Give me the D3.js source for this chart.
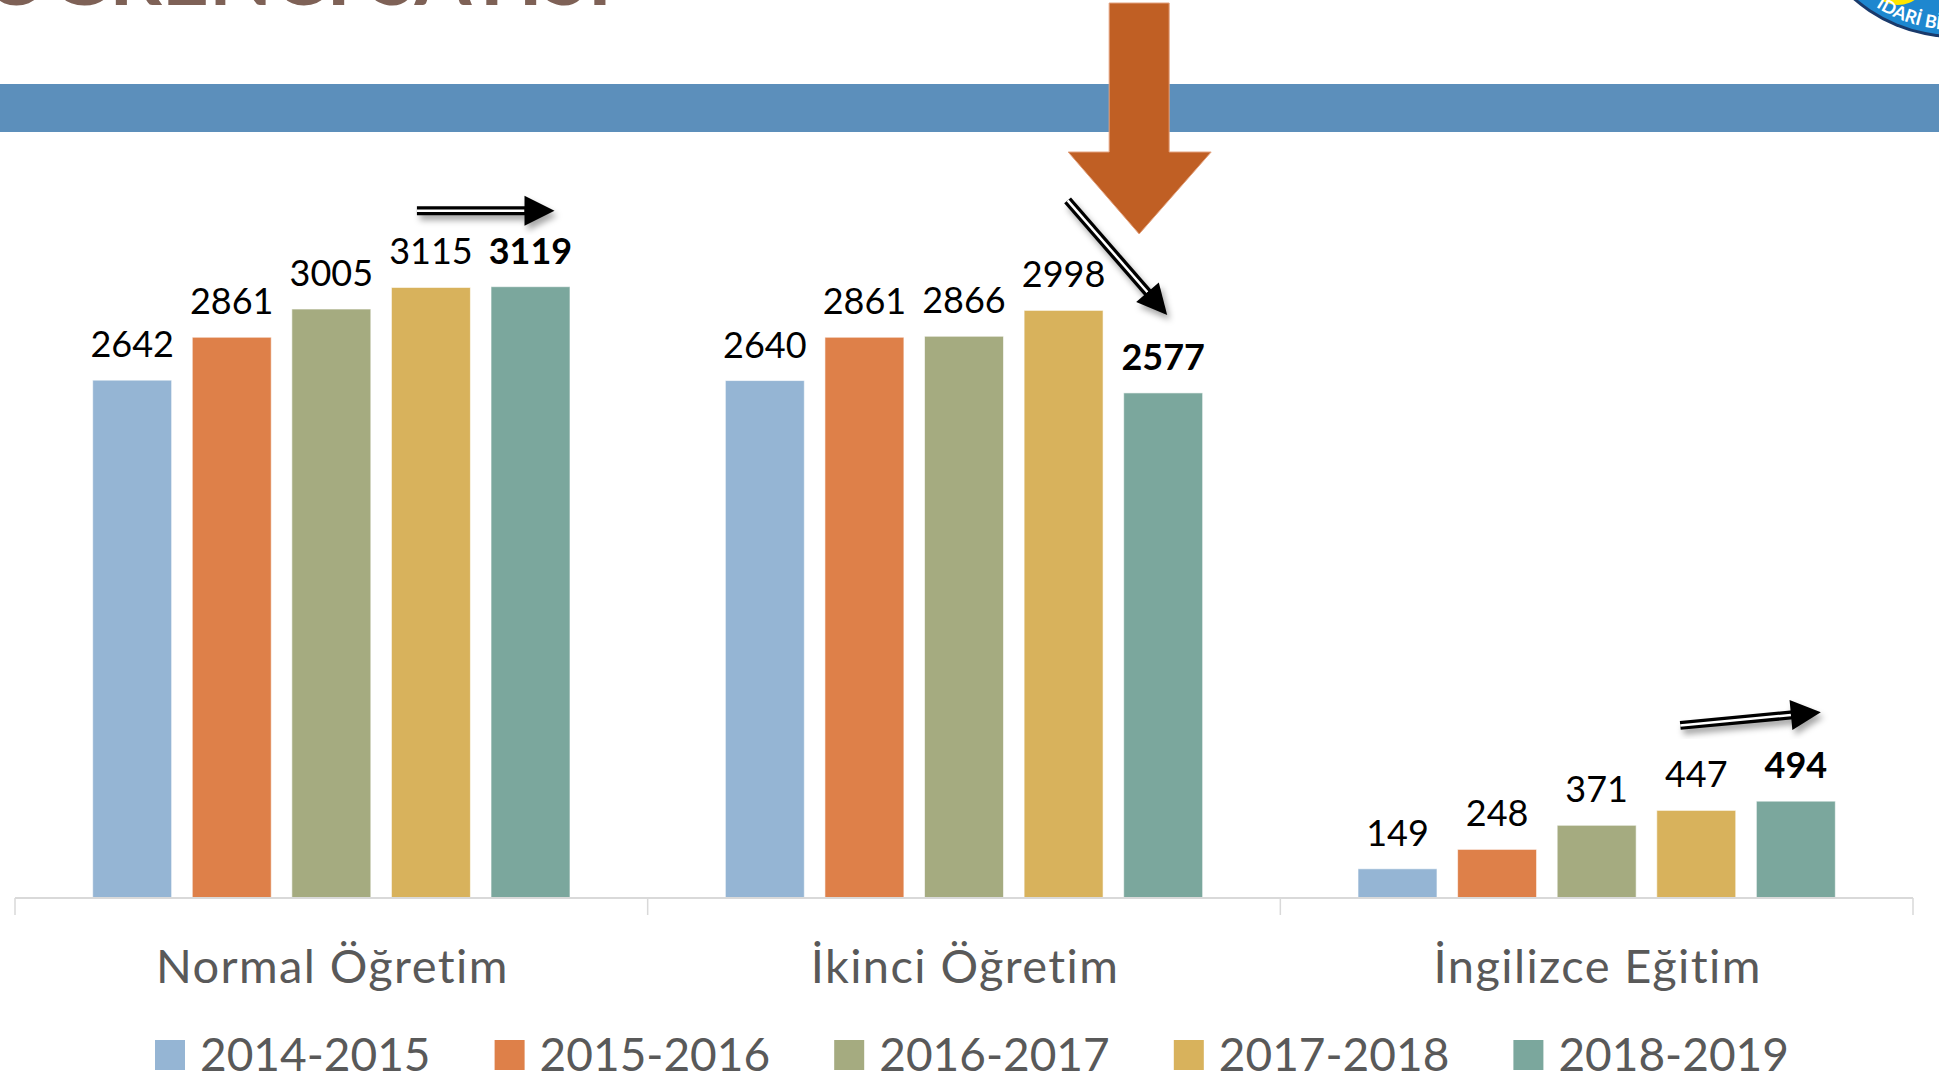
<!DOCTYPE html>
<html>
<head>
<meta charset="utf-8">
<script src="https://cdn.jsdelivr.net/npm/d3@7"></script>
<style>
  body { margin: 0; background: #fff; overflow: hidden; }
  text { font-family: Lato, "Open Sans", sans-serif; }
</style>
</head>
<body>
<div id="chart"></div>
<script>
// data
var categories = ["Normal Öğretim", "İkinci Öğretim", "İngilizce Eğitim"];
var years = ["2014-2015", "2015-2016", "2016-2017", "2017-2018", "2018-2019"];
var y2014 = [2642, 2640, 149];
var y2015 = [2861, 2861, 248];
var y2016 = [3005, 2866, 371];
var y2017 = [3115, 2998, 447];
var y2018 = [3119, 2577, 494];
var colors = ["#95b5d4", "#de8049", "#a5ab80", "#d8b25c", "#7ba79d"];
var series = [y2014, y2015, y2016, y2017, y2018];

var w = 1939, h = 1079;
var baseY = 898;

var svg = d3.select("#chart").append("svg")
  .attr("width", w)
  .attr("height", h);

var defs = svg.append("defs");
var shadow = defs.append("filter").attr("id", "shadow")
  .attr("x", "-30%").attr("y", "-30%").attr("width", "160%").attr("height", "160%");
shadow.append("feDropShadow")
  .attr("dx", 3).attr("dy", 5).attr("stdDeviation", 3)
  .attr("flood-color", "#000").attr("flood-opacity", 0.35);

// title sliver (cut at the top of the slide)
svg.append("text")
  .attr("x", 612).attr("y", 5)
  .attr("text-anchor", "end")
  .style("font-size", "82px")
  .style("font-weight", "bold")
  .attr("fill", "#7e6156")
  .text("ÖĞRENCİ SAYISI");

// blue band
svg.append("rect")
  .attr("x", 0).attr("y", 84)
  .attr("width", w).attr("height", 48)
  .attr("fill", "#5c8fbb");

// logo in the corner
var logo = svg.append("g").attr("transform", "translate(1955,-117)");
logo.append("circle").attr("r", 155).attr("fill", "#1a3a6b");
logo.append("circle").attr("r", 152).attr("fill", "#1e87cf");
logo.append("circle").attr("r", 116).attr("fill", "#ffe600");
logo.append("circle").attr("cx", -57).attr("cy", 92).attr("r", 30).attr("fill", "#ffe600");
defs.append("path").attr("id", "logoArc")
  .attr("d", "M -147,0 A 147,147 0 0 0 147,0");
logo.append("text")
  .attr("fill", "#fff")
  .style("font-size", "18px")
  .style("font-weight", "bold")
  .append("textPath")
  .attr("href", "#logoArc")
  .attr("startOffset", 147)
  .text("İDARİ BİLİMLER");

// scales
var x0 = d3.scaleBand().domain(categories).range([15, 1913]);
var x1 = d3.scaleBand().domain(years).range([0, x0.bandwidth()])
  .paddingInner(0.207).paddingOuter(0.78);
var y = d3.scaleLinear().domain([0, 3500]).range([baseY, 212]);

function barX(ci, si) { return x0(categories[ci]) + x1(years[si]); }
function barC(ci, si) { return barX(ci, si) + x1.bandwidth() / 2; }

// bars
series.forEach(function(vals, si) {
  svg.selectAll(".bar" + si)
    .data(vals)
    .enter()
    .append("rect")
    .attr("x", function(d, i) { return barX(i, si); })
    .attr("y", function(d) { return y(d); })
    .attr("width", x1.bandwidth())
    .attr("height", function(d) { return baseY - y(d); })
    .attr("fill", colors[si])
    .attr("stroke", "#fff")
    .attr("stroke-opacity", 0.6)
    .attr("stroke-width", 1);

  svg.selectAll(".lab" + si)
    .data(vals)
    .enter()
    .append("text")
    .attr("x", function(d, i) { return barC(i, si); })
    .attr("y", function(d) { return y(d) - 23; })
    .attr("text-anchor", "middle")
    .style("font-size", "36px")
    .style("font-weight", si == 4 ? "bold" : "normal")
    .attr("fill", "#000")
    .text(function(d) { return d; });
});

// axis line + ticks
svg.append("line")
  .attr("x1", 15).attr("x2", 1913)
  .attr("y1", baseY).attr("y2", baseY)
  .style("stroke", "#d9d9d9").style("stroke-width", 2);
var tickXs = categories.map(function(c) { return x0(c); }).concat([x0.range()[1]]);
svg.selectAll(".tick")
  .data(tickXs)
  .enter()
  .append("line")
  .attr("x1", function(d) { return d; }).attr("x2", function(d) { return d; })
  .attr("y1", baseY).attr("y2", 915)
  .style("stroke", "#d9d9d9").style("stroke-width", 1.5);

// category labels
svg.selectAll(".cat")
  .data(categories)
  .enter()
  .append("text")
  .attr("x", function(d) { return x0(d) + x0.bandwidth() / 2 + 1; })
  .attr("y", 983)
  .attr("text-anchor", "middle")
  .style("font-size", "47px")
  .style("letter-spacing", "1.4px")
  .attr("fill", "#595959")
  .text(function(d) { return d; });

// legend
var leg = svg.selectAll(".leg")
  .data(years)
  .enter()
  .append("g")
  .attr("transform", function(d, i) { return "translate(" + (155 + i * 339.6) + ",1040)"; });
leg.append("rect")
  .attr("width", 30).attr("height", 30)
  .attr("fill", function(d, i) { return colors[i]; });
leg.append("text")
  .attr("x", 45).attr("y", 31)
  .style("font-size", "46px")
  .attr("fill", "#595959")
  .text(function(d) { return d; });

// double-line arrows
function drawArrow(sx, sy, tx, ty) {
  var ang = Math.atan2(ty - sy, tx - sx);
  var headLen = 30, headW = 15;
  var bx = tx - headLen * Math.cos(ang), by = ty - headLen * Math.sin(ang);
  var px = -Math.sin(ang), py = Math.cos(ang);
  var g = svg.append("g").attr("filter", "url(#shadow)");
  g.append("line")
    .attr("x1", sx).attr("y1", sy).attr("x2", bx + 2 * Math.cos(ang)).attr("y2", by + 2 * Math.sin(ang))
    .style("stroke", "#000").style("stroke-width", 9);
  g.append("line")
    .attr("x1", sx).attr("y1", sy).attr("x2", bx).attr("y2", by)
    .style("stroke", "#fff").style("stroke-width", 2.5);
  g.append("path")
    .attr("d", "M" + tx + "," + ty +
      "L" + (bx + px * headW) + "," + (by + py * headW) +
      "L" + (bx - px * headW) + "," + (by - py * headW) + "Z")
    .attr("fill", "#000");
}

drawArrow(barC(0, 3) - 14, y(y2018[0]) - 76, barC(0, 4) + 24, y(y2018[0]) - 76);
drawArrow(barC(1, 3) + 4, y(y2017[1]) - 110, barC(1, 4) + 4, y(y2018[1]) - 78);
drawArrow(barC(2, 3) - 16, y(y2017[2]) - 85, barC(2, 4) + 25, y(y2018[2]) - 89);

// big orange arrow over the band
var ox = barC(1, 4) - 24;
svg.append("path")
  .attr("d", "M" + (ox - 30) + ",3 L" + (ox + 30) + ",3 L" + (ox + 30) + ",152 L" + (ox + 72) + ",152 L" +
    ox + ",234 L" + (ox - 71) + ",152 L" + (ox - 30) + ",152 Z")
  .attr("fill", "#c05f24")
  .attr("stroke", "#e3a27f")
  .attr("stroke-width", 1);
</script>
</body>
</html>
